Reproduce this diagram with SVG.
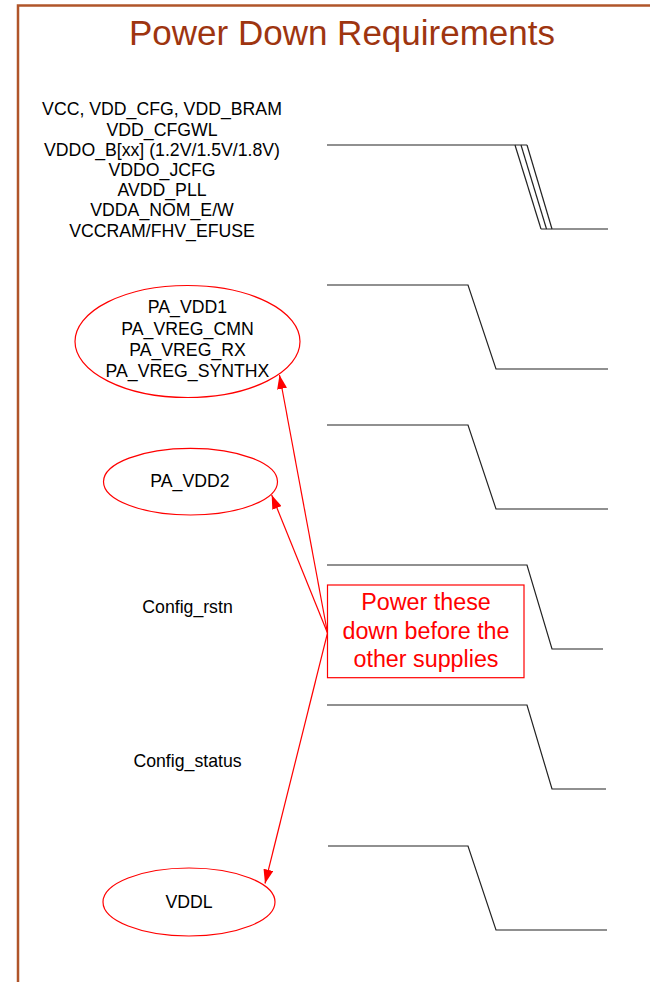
<svg xmlns="http://www.w3.org/2000/svg" width="650" height="982" viewBox="0 0 650 982">
<style>
  .t { font-family: "Liberation Sans", Arial, sans-serif; font-size: 17.7px; fill: #000; text-anchor: middle; }
  .r { font-family: "Liberation Sans", Arial, sans-serif; font-size: 23.3px; fill: #FF0000; text-anchor: middle; }
  .wave { fill: none; stroke: #222; stroke-width: 1.2; }
  .ell { fill: none; stroke: #FF0000; stroke-width: 1.2; }
  .arr { fill: none; stroke: #FF0000; stroke-width: 1.2; marker-end: url(#ah); }
</style>
<defs>
  <marker id="ah" markerWidth="14" markerHeight="10" refX="14" refY="5" orient="auto" markerUnits="userSpaceOnUse">
    <path d="M0,0 L14,5 L0,10 Z" fill="#FF0000"/>
  </marker>
</defs>
<rect x="0" y="0" width="650" height="982" fill="#fff"/>
<g id="frame">
  <path d="M18,982 L18,5.5 L650,5.5" fill="none" stroke="#B0552A" stroke-width="2.5"/>
  <text x="342" y="45" font-family="Liberation Sans, Arial, sans-serif" font-size="35" fill="#9E3510" text-anchor="middle">Power Down Requirements</text>
</g>
<g id="supplies-main">
  <text class="t" x="162" y="115">VCC, VDD_CFG, VDD_BRAM</text>
  <text class="t" x="162" y="135.5">VDD_CFGWL</text>
  <text class="t" x="162" y="155.7">VDDO_B[xx] (1.2V/1.5V/1.8V)</text>
  <text class="t" x="162" y="176">VDDO_JCFG</text>
  <text class="t" x="162" y="196">AVDD_PLL</text>
  <text class="t" x="162" y="216.3">VDDA_NOM_E/W</text>
  <text class="t" x="162" y="236.7">VCCRAM/FHV_EFUSE</text>
</g>
<g id="pa-vdd1">
  <ellipse class="ell" cx="187.5" cy="341.5" rx="112.5" ry="56"/>
  <text class="t" x="187.5" y="313">PA_VDD1</text>
  <text class="t" x="187.5" y="335">PA_VREG_CMN</text>
  <text class="t" x="187.5" y="355.5">PA_VREG_RX</text>
  <text class="t" x="187.5" y="376.5">PA_VREG_SYNTHX</text>
</g>
<g id="pa-vdd2">
  <ellipse class="ell" cx="190.5" cy="481.7" rx="87" ry="33.3"/>
  <text class="t" x="190" y="487">PA_VDD2</text>
</g>
<g id="config-rstn">
  <text class="t" x="187.5" y="612.5">Config_rstn</text>
</g>
<g id="config-status">
  <text class="t" x="187.5" y="767">Config_status</text>
</g>
<g id="vddl">
  <ellipse class="ell" cx="189" cy="902" rx="86" ry="34"/>
  <text class="t" x="189" y="907.5">VDDL</text>
</g>
<g id="note">
  <rect x="327.5" y="585" width="196.5" height="92.7" fill="#fff" stroke="#FF0000" stroke-width="1.2"/>
  <text class="r" x="426" y="610">Power these</text>
  <text class="r" x="426" y="639">down before the</text>
  <text class="r" x="426" y="667">other supplies</text>
</g>
<g id="waveforms">
  <polyline class="wave" points="327,145 527,145"/>
  <line class="wave" x1="515" y1="145" x2="541" y2="229"/>
  <line class="wave" x1="521" y1="145" x2="546.5" y2="229"/>
  <line class="wave" x1="527" y1="145" x2="552" y2="229"/>
  <polyline class="wave" points="541,229 608,229"/>
  <polyline class="wave" points="327,285 468,285 496,369 608,369"/>
  <polyline class="wave" points="327,425 468,425 496,509 608,509"/>
  <polyline class="wave" points="327,565 527,565 552,649 603,649"/>
  <polyline class="wave" points="327,705 527,705 552,789 606,789"/>
  <polyline class="wave" points="328,846 468,846 496,930 607,930"/>
</g>
<g id="connectors">
  <line class="arr" x1="327.5" y1="633" x2="279.5" y2="375"/>
  <line class="arr" x1="327.5" y1="633" x2="271.7" y2="495"/>
  <line class="arr" x1="327.5" y1="633" x2="265" y2="883.5"/>
</g>
</svg>
